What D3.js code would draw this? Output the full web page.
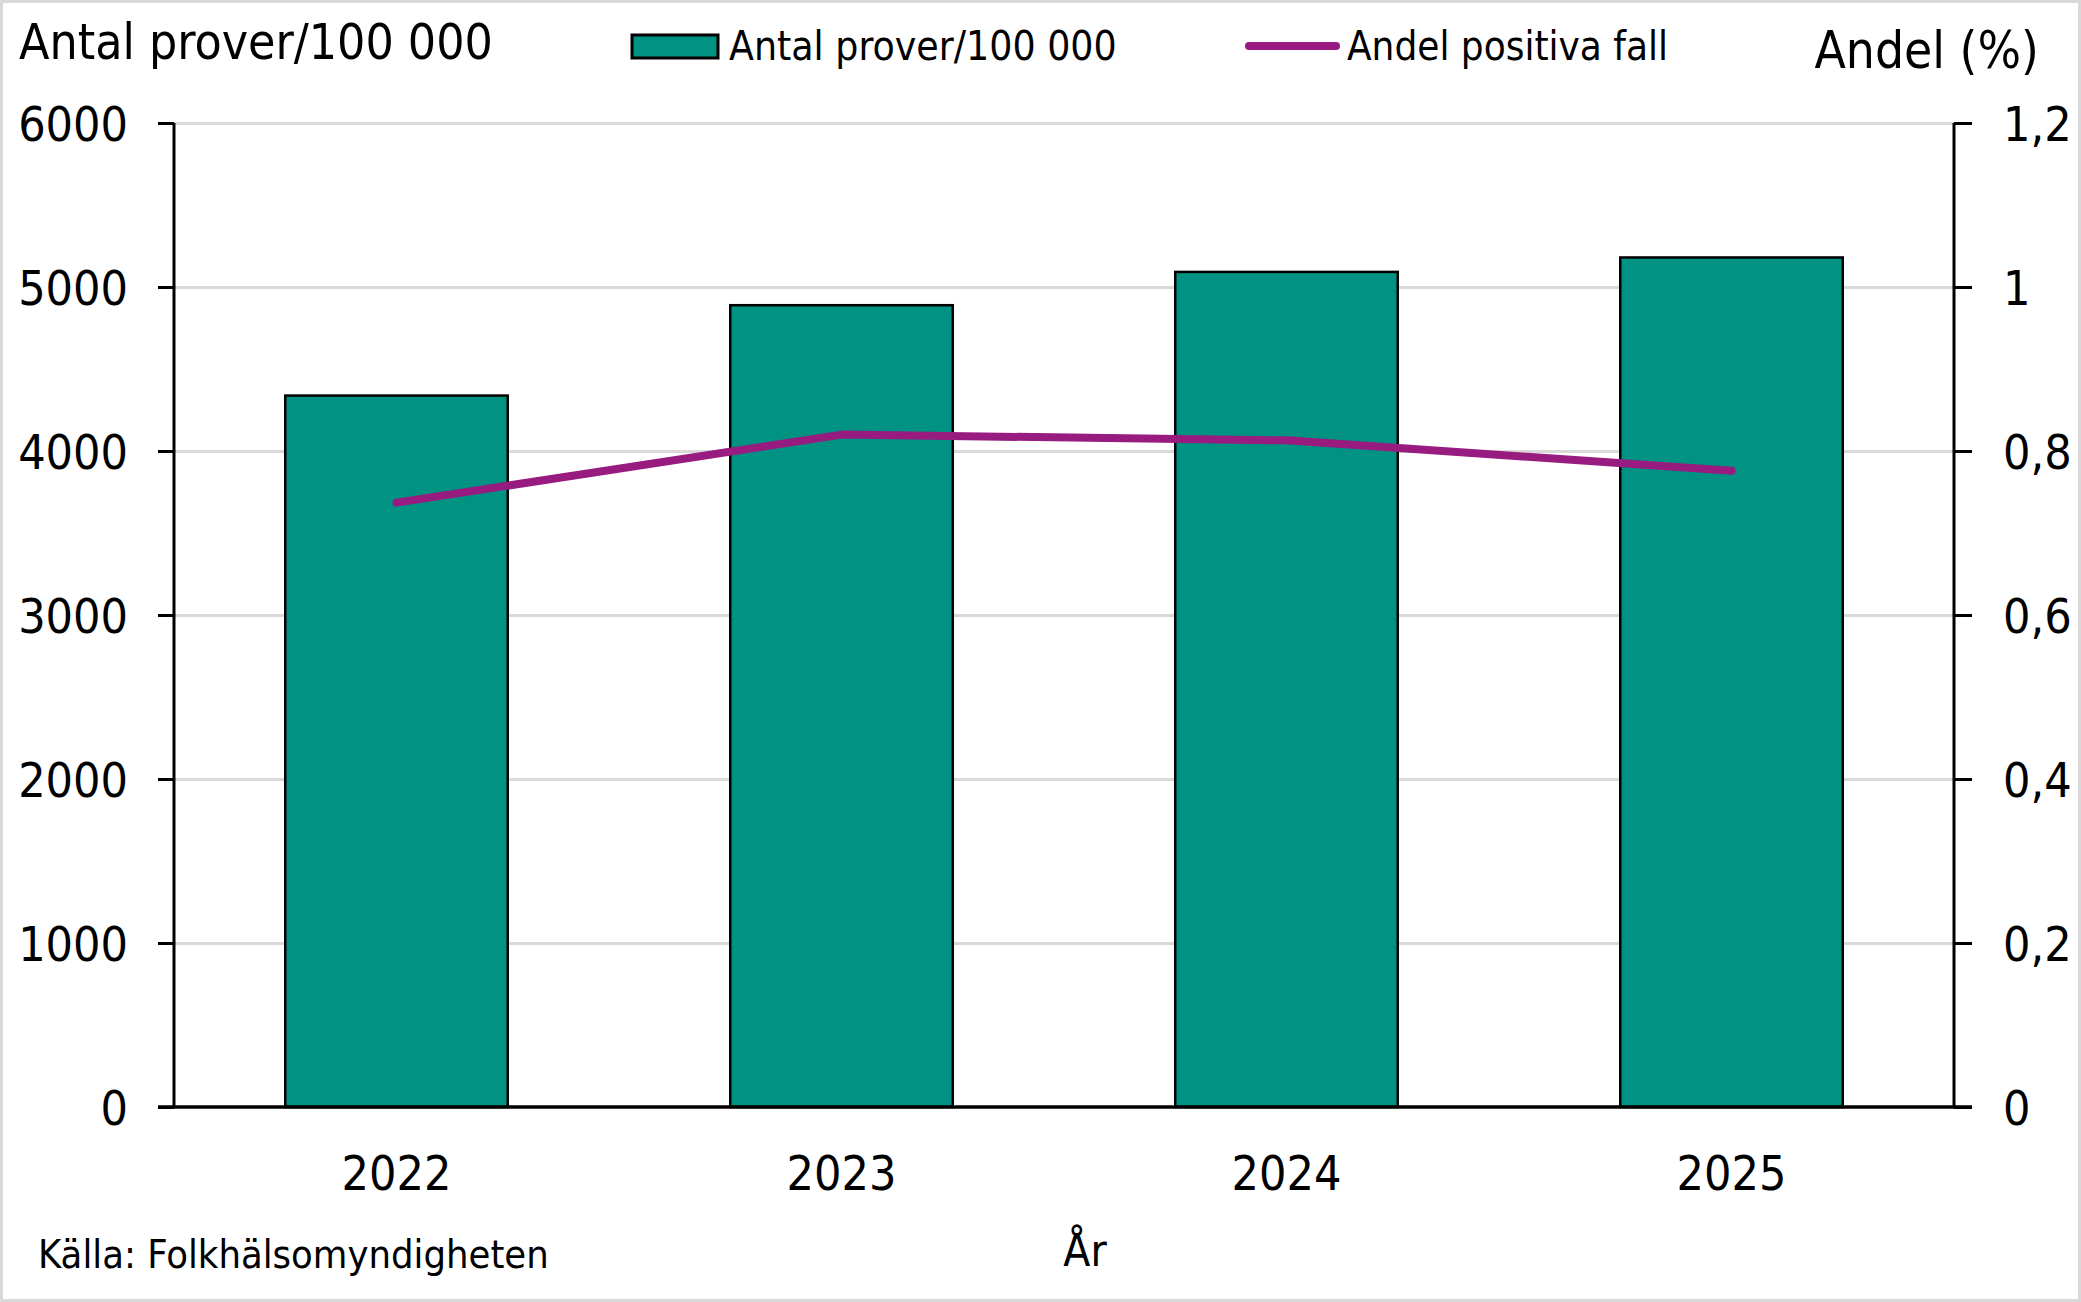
<!DOCTYPE html>
<html lang="sv">
<head>
<meta charset="UTF-8" />
<title>Antal prover och andel positiva fall</title>
<script src="https://d3js.org/d3.v7.min.js"></script>
<style>
  body { margin: 0; background: #fff; }
  svg { display: block; }
  text { font-family: "DejaVu Sans Condensed", "DejaVu Sans", sans-serif; fill: #000; }
</style>
</head>
<body>
<div id="chart"></div>
<script>
  // data
  const years = ["2022", "2023", "2024", "2025"];
  const samplesPer100k = [4338, 4889, 5092, 5180];
  const positiveShare = [0.737, 0.82, 0.813, 0.776];

  const leftTicks = [0, 1000, 2000, 3000, 4000, 5000, 6000];
  const rightTicks = [0, 0.2, 0.4, 0.6, 0.8, 1, 1.2];
  const rightTickLabels = ["0", "0,2", "0,4", "0,6", "0,8", "1", "1,2"];

  const width = 2081, height = 1302;
  const margin = { top: 123, right: 127, bottom: 195, left: 174 };
  const barColor = "#009384";
  const lineColor = "#981B80";
  const gridColor = "#d9d9d9";
  const font = '"DejaVu Sans Condensed", "DejaVu Sans", sans-serif';

  const svg = d3.select("#chart").append("svg")
    .attr("width", width)
    .attr("height", height);

  // outer frame
  svg.append("rect")
    .attr("x", 1.5).attr("y", 1.5)
    .attr("width", width - 3).attr("height", height - 3)
    .attr("fill", "#fff")
    .attr("stroke", gridColor)
    .attr("stroke-width", 3);

  const x = d3.scaleBand()
    .domain(years)
    .range([margin.left, width - margin.right])
    .paddingInner(0.5)
    .paddingOuter(0.25);

  const yLeft = d3.scaleLinear()
    .domain([0, 6000])
    .range([height - margin.bottom, margin.top]);

  const yRight = d3.scaleLinear()
    .domain([0, 1.2])
    .range([height - margin.bottom, margin.top]);

  const plotW = width - margin.left - margin.right;

  // gridlines
  svg.append("g")
    .attr("transform", `translate(${margin.left},0)`)
    .call(d3.axisLeft(yLeft).tickValues(leftTicks.slice(1)).tickSize(-plotW).tickFormat(""))
    .call(g => g.select(".domain").remove())
    .call(g => g.selectAll("line").attr("stroke", gridColor).attr("stroke-width", 3));

  // bars
  svg.append("g")
    .selectAll("rect")
    .data(years)
    .join("rect")
    .attr("x", d => x(d))
    .attr("y", (d, i) => yLeft(samplesPer100k[i]))
    .attr("width", x.bandwidth())
    .attr("height", (d, i) => yLeft(0) - yLeft(samplesPer100k[i]))
    .attr("fill", barColor)
    .attr("stroke", "#000")
    .attr("stroke-width", 2.5);

  // left axis
  svg.append("g")
    .attr("transform", `translate(${margin.left},0)`)
    .call(d3.axisLeft(yLeft).tickValues(leftTicks).tickSize(16).tickPadding(30).tickFormat(d3.format("d")))
    .call(g => g.select(".domain").attr("stroke-width", 3).attr("d", `M0,${yLeft(6000)}V${yLeft(0)}`))
    .call(g => g.selectAll(".tick line").attr("stroke-width", 3))
    .call(g => g.selectAll("text")
      .attr("font-size", 48)
      .attr("dy", "0.36em")
      .style("font-family", font));

  // right axis
  svg.append("g")
    .attr("transform", `translate(${width - margin.right},0)`)
    .call(d3.axisRight(yRight).tickValues(rightTicks).tickSize(18)
      .tickFormat((d, i) => rightTickLabels[i]))
    .call(g => g.select(".domain").attr("stroke-width", 3).attr("d", `M0,${yRight(1.2)}V${yRight(0)}`))
    .call(g => g.selectAll(".tick line").attr("stroke-width", 3))
    .call(g => g.selectAll("text")
      .attr("x", 49)
      .attr("text-anchor", "start")
      .attr("font-size", 48)
      .attr("dy", "0.36em")
      .style("font-family", font));

  // bottom axis
  svg.append("g")
    .attr("transform", `translate(0,${yLeft(0)})`)
    .call(d3.axisBottom(x).tickSize(0).tickPadding(83))
    .call(g => g.select(".domain").attr("stroke-width", 3.5)
      .attr("d", `M${margin.left - 16},0H${width - margin.right + 18}`))
    .call(g => g.selectAll("text")
      .attr("font-size", 48)
      .attr("dy", 0)
      .style("font-family", font));

  // line
  const line = d3.line()
    .x(d => x(d[0]) + x.bandwidth() / 2)
    .y(d => yRight(d[1]));

  svg.append("path")
    .datum(years.map((y, i) => [y, positiveShare[i]]))
    .attr("d", line)
    .attr("fill", "none")
    .attr("stroke", lineColor)
    .attr("stroke-width", 8)
    .attr("stroke-linecap", "round")
    .attr("stroke-linejoin", "round");

  // titles
  svg.append("text")
    .attr("x", 19).attr("y", 59)
    .attr("font-size", 49.5)
    .text("Antal prover/100 000");

  svg.append("text")
    .attr("x", 2039).attr("y", 68)
    .attr("text-anchor", "end")
    .attr("font-size", 51)
    .text("Andel (%)");

  svg.append("text")
    .attr("x", 1085)
    .attr("y", 1266)
    .attr("text-anchor", "middle")
    .attr("font-size", 44)
    .text("År");

  svg.append("text")
    .attr("x", 38).attr("y", 1268)
    .attr("font-size", 39.5)
    .text("Källa: Folkhälsomyndigheten");

  // legend
  const legend = svg.append("g");
  legend.append("rect")
    .attr("x", 632).attr("y", 35)
    .attr("width", 86).attr("height", 23)
    .attr("fill", barColor)
    .attr("stroke", "#000")
    .attr("stroke-width", 3);
  legend.append("text")
    .attr("x", 729).attr("y", 60)
    .attr("font-size", 40.5)
    .text("Antal prover/100 000");

  legend.append("line")
    .attr("x1", 1249).attr("x2", 1336)
    .attr("y1", 46).attr("y2", 46)
    .attr("stroke", lineColor)
    .attr("stroke-width", 8)
    .attr("stroke-linecap", "round");
  legend.append("text")
    .attr("x", 1347).attr("y", 60)
    .attr("font-size", 40)
    .text("Andel positiva fall");
</script>
</body>
</html>
